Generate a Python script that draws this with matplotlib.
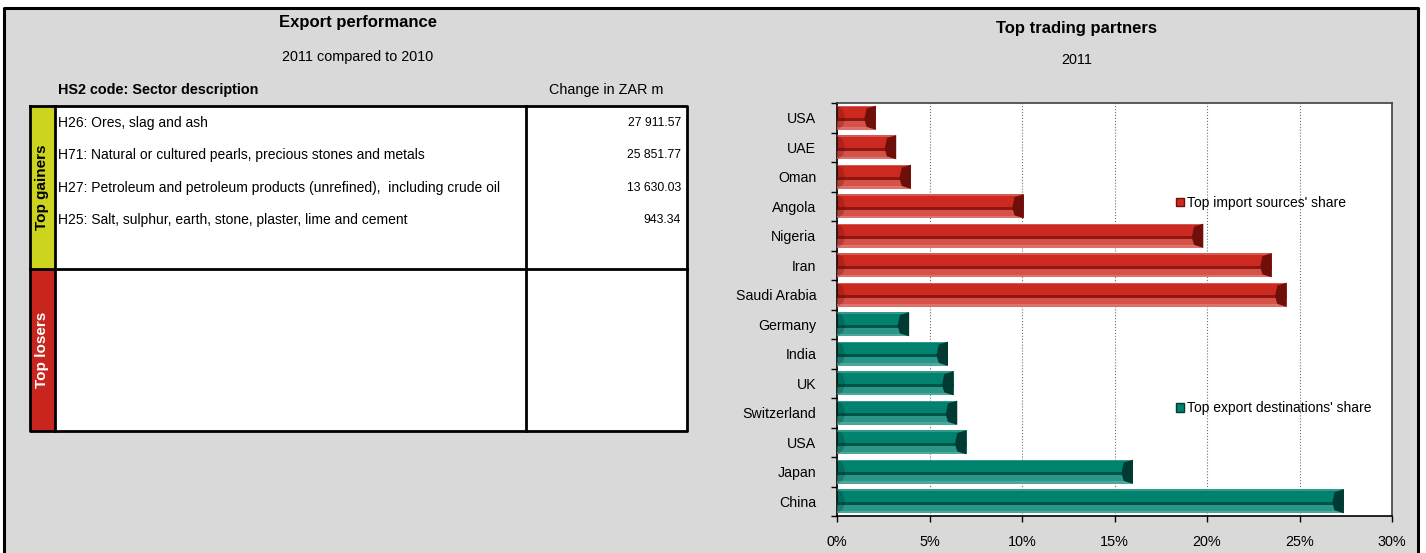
import matplotlib.pyplot as plt
from matplotlib.patches import Rectangle, Patch

# trading partners, 2011 share (%)
import_partners = ["USA", "UAE", "Oman", "Angola", "Nigeria", "Iran", "Saudi Arabia"]
import_share = [2.1, 3.2, 4.0, 10.1, 19.8, 23.5, 24.3]
export_partners = ["Germany", "India", "UK", "Switzerland", "USA", "Japan", "China"]
export_share = [3.9, 6.0, 6.3, 6.5, 7.0, 16.0, 27.4]

# export performance table
gainer_rows = [
    "H26: Ores, slag and ash",
    "H71: Natural or cultured pearls, precious stones and metals",
    "H27: Petroleum and petroleum products (unrefined),  including crude oil",
    "H25: Salt, sulphur, earth, stone, plaster, lime and cement",
]
gainer_values = ["27 911.57", "25 851.77", "13 630.03", "943.34"]

SANS = ["Liberation Sans", "DejaVu Sans"]
BG = "#d9d9d9"

W, H = 1426, 553
fig = plt.figure(figsize=(W / 100, H / 100), dpi=100)
fig.patch.set_facecolor("white")

# background layer in pixel coordinates
bg = fig.add_axes([0, 0, 1, 1])
bg.set_xlim(0, W)
bg.set_ylim(H, 0)
bg.axis("off")
bg.add_patch(Rectangle((4, 8), 1414, H, facecolor=BG, edgecolor="none"))
bg.plot([4, 4, 1418, 1418], [H, 8, 8, H], color="black", lw=2.2)

# left panel: export performance
bg.text(358, 22, "Export performance", ha="center", va="center",
        fontsize=12, fontweight="bold", family=SANS)
bg.text(358, 57, "2011 compared to 2010", ha="center", va="center",
        fontsize=10.4, family=SANS)
bg.text(58, 90, "HS2 code: Sector description", ha="left", va="center",
        fontsize=10.4, fontweight="bold", family=SANS)
bg.text(606, 90, "Change in ZAR m", ha="center", va="center",
        fontsize=10.4, family=SANS)

bg.add_patch(Rectangle((55, 106), 632, 325, facecolor="white", edgecolor="none"))
bg.add_patch(Rectangle((30, 106), 25, 163, facecolor="#cdd41f", edgecolor="none"))
bg.add_patch(Rectangle((30, 269), 25, 162, facecolor="#c8251e", edgecolor="none"))
bg.plot([30, 687, 687, 30, 30], [106, 106, 431, 431, 106], color="black", lw=2)
bg.plot([30, 687], [269, 269], color="black", lw=2)
bg.plot([55, 55], [106, 431], color="black", lw=2)
bg.plot([526, 526], [106, 431], color="black", lw=2)
bg.text(42, 187, "Top gainers", rotation=90, ha="center", va="center",
        fontsize=11, fontweight="bold", family=SANS, color="black")
bg.text(42, 350, "Top losers", rotation=90, ha="center", va="center",
        fontsize=11, fontweight="bold", family=SANS, color="white")

for i, (row, val) in enumerate(zip(gainer_rows, gainer_values)):
    y = 123 + i * 32.3
    bg.text(58, y, row, ha="left", va="center", fontsize=10, family=SANS)
    bg.text(681, y, val, ha="right", va="center", fontsize=8.8, family=SANS)

# right panel titles
bg.text(1077, 28, "Top trading partners", ha="center", va="center",
        fontsize=12, fontweight="bold", family=SANS)
bg.text(1077, 60, "2011", ha="center", va="center", fontsize=10.4, family=SANS)

# bar chart
x0, x1, y0, y1 = 837, 1392, 103, 516
ax = fig.add_axes([x0 / W, (H - y1) / H, (x1 - x0) / W, (y1 - y0) / H])
ax.set_facecolor("white")

labels = import_partners + export_partners
values = import_share + export_share
styles = ([("#cc2a20", "#6e0f0a", "#e07a72")] * len(import_share)
          + [("#00826f", "#003a33", "#55ab9f")] * len(export_share))

h = 0.82
for i, (v, (main, dark, light)) in enumerate(zip(values, styles)):
    top = i - h / 2
    ax.barh(i, v, height=h, color=main, zorder=2)
    # bevel: light top edge, dark middle seam, lighter lower half
    ax.barh(top + 0.03, v, height=0.06, color=light, alpha=0.6, zorder=3)
    ax.barh(i + 0.07, v, height=0.1, color=dark, alpha=0.65, zorder=3)
    ax.barh(i + 0.24, v, height=0.24, color=light, alpha=0.5, zorder=3)
    ax.barh(i + h / 2 - 0.04, v, height=0.08, color=light, alpha=0.9, zorder=3)
    # end caps
    d = 0.5
    ax.fill([v, v - d, v - 1.25 * d, v - d, v],
            [top, top + 0.1, i + 0.05, i + h / 2 - 0.1, i + h / 2],
            color=dark, zorder=4, lw=0)
    ax.fill([0, 0.3, 0.45, 0.3, 0],
            [top, top + 0.12, i + 0.05, i + h / 2 - 0.12, i + h / 2],
            color=dark, alpha=0.3, zorder=4, lw=0)

ax.set_xlim(0, 30)
ax.set_ylim(len(values) - 0.5, -0.5)
ax.set_xticks(range(0, 31, 5))
ax.set_xticklabels([f"{t}%" for t in range(0, 31, 5)], family=SANS, fontsize=10.4)
ax.set_yticks(range(len(labels)))
ax.set_yticklabels(labels, family=SANS, fontsize=10.2)
ax.set_yticks([i + 0.5 for i in range(-1, len(labels))], minor=True)
ax.tick_params(axis="y", which="major", length=0, pad=15)
ax.tick_params(axis="y", which="minor", length=4, direction="out", width=1)
ax.tick_params(axis="x", length=4, direction="out", width=1, pad=10)
ax.grid(axis="x", linestyle=":", color="#707070", lw=0.8, zorder=1)
for s in ax.spines.values():
    s.set_color("black")
    s.set_linewidth(1.2)
ax.spines["top"].set_color("#404040")
ax.spines["right"].set_color("#404040")

leg1 = ax.legend(handles=[Patch(facecolor="#cc2a20", edgecolor="#6e0f0a")],
                 labels=["Top import sources' share"], loc="center left",
                 bbox_to_anchor=(0.6, 0.758), frameon=False, handlelength=0.6,
                 handleheight=0.6, handletextpad=0.25, borderaxespad=0,
                 prop={"family": SANS, "size": 10})
ax.add_artist(leg1)
ax.legend(handles=[Patch(facecolor="#00826f", edgecolor="#003a33")],
          labels=["Top export destinations' share"], loc="center left",
          bbox_to_anchor=(0.6, 0.261), frameon=False, handlelength=0.6,
          handleheight=0.6, handletextpad=0.25, borderaxespad=0,
          prop={"family": SANS, "size": 10})

fig.savefig("out.png", dpi=100, facecolor=fig.get_facecolor())
